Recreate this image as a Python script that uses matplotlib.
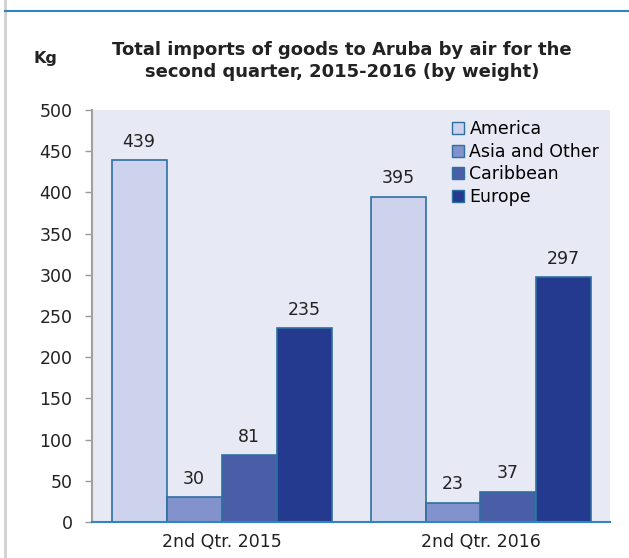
import numpy as np
import matplotlib.pyplot as plt
from matplotlib.patches import Patch
from matplotlib.lines import Line2D

# Данные
quarters = ['2nd Qtr. 2015', '2nd Qtr. 2016']
regions = ['America', 'Asia and Other', 'Caribbean', 'Europe']
america = [439, 395]
asia_other = [30, 23]
caribbean = [81, 37]
europe = [235, 297]

colors = ['#cdd3ec', '#8292cc', '#4a5ea8', '#243a8f']
edge = '#2f6f9f'
fs = 12.5

fig = plt.figure(figsize=(6.29, 5.58), dpi=100)
ax = fig.add_axes([92 / 629, 1 - 522 / 558, 518 / 629, 412 / 558])
ax.set_facecolor('#e7e9f5')

x = np.arange(len(quarters))
w = 55 / 259
series = [america, asia_other, caribbean, europe]
for i, (vals, c, name) in enumerate(zip(series, colors, regions)):
    pos = x + (i - 1.5) * w
    ax.bar(pos, vals, w, color=c, edgecolor=edge, linewidth=1.2, label=name, zorder=2)
    for p, v in zip(pos, vals):
        ax.annotate(str(v), (p, v), xytext=(0, 7), textcoords='offset points',
                    ha='center', va='bottom', fontsize=fs, color='#222222')

ax.set_xlim(-0.5, 1.5)
ax.set_ylim(0, 500)
ax.set_yticks(range(0, 501, 50))
ax.set_xticks(x)
ax.set_xticklabels(quarters, fontsize=fs, color='#222222')
ax.tick_params(axis='y', labelsize=fs, colors='#222222', length=5, width=1, color='#999999', pad=9)
ax.tick_params(axis='x', length=0, pad=8)
for s in ['top', 'right']:
    ax.spines[s].set_visible(False)
ax.spines['left'].set_color('#a0a0a0')
ax.spines['left'].set_linewidth(1.5)
ax.spines['bottom'].set_color('#2e86c1')
ax.spines['bottom'].set_linewidth(1.5)
ax.spines['bottom'].set_zorder(3)

handles = [Patch(facecolor=c, edgecolor=edge, label=n) for c, n in zip(colors, regions)]
ax.legend(handles=handles, loc='upper left', bbox_to_anchor=((452 - 92) / 518, 1 - (120 - 110) / 412),
          frameon=False, fontsize=fs, handlelength=0.7, handleheight=0.7, handletextpad=0.3,
          labelspacing=0.27, borderaxespad=0, borderpad=0)

fig.text(342 / 629, 1 - 61 / 558,
         'Total imports of goods to Aruba by air for the\nsecond quarter, 2015-2016 (by weight)',
         ha='center', va='center', fontsize=13, fontweight='bold', color='#222222', linespacing=1.27)
fig.text(45 / 629, 1 - 58 / 558, 'Kg', ha='center', va='center', fontsize=11.5,
         fontweight='bold', color='#222222')

# рамка
fig.add_artist(Line2D([5 / 629, 5 / 629], [0, 1], color='#d0d0d0', linewidth=2))
fig.add_artist(Line2D([5 / 629, 1], [1 - 11 / 558, 1 - 11 / 558], color='#2e86c1', linewidth=1.5))

fig.savefig('out.png', dpi=100)
